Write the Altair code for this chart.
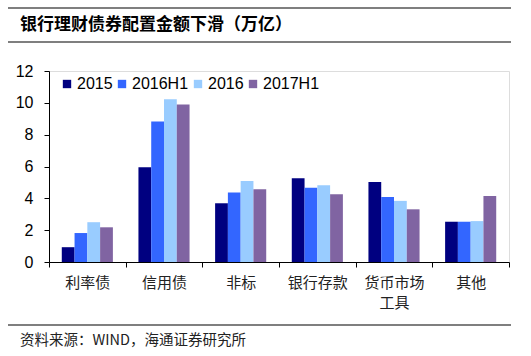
import altair as alt
import pandas as pd

categories = ["利率债", "信用债", "非标", "银行存款", "货币市场工具", "其他"]
series = ["2015", "2016H1", "2016", "2017H1"]
v2015 = [0.93, 5.95, 3.69, 5.26, 5.03, 2.53]
v2016h1 = [1.82, 8.82, 4.36, 4.67, 4.09, 2.53]
v2016 = [2.50, 10.22, 5.09, 4.82, 3.84, 2.57]
v2017h1 = [2.18, 9.90, 4.57, 4.26, 3.31, 4.15]
colors = ["#000080", "#3366FF", "#99CCFF", "#8064A2"]

rows = []
for s, vals in zip(series, [v2015, v2016h1, v2016, v2017h1]):
    for c, v in zip(categories, vals):
        rows.append({"cat": c, "series": s, "value": v})
df = pd.DataFrame(rows)

W, H = 460, 191
LEFT, TOP = 49, 71

bars = alt.Chart(df).mark_bar().encode(
    x=alt.X("cat:N", sort=categories, title=None,
            scale=alt.Scale(paddingInner=0, paddingOuter=0),
            axis=alt.Axis(tickBand="extent", labelAngle=0, labelFont="Noto Sans CJK SC",
                          labelFontSize=15, labelColor="#222", labelPadding=8,
                          tickSize=5, tickColor="#000", domainColor="#000",
                          labelLineHeight=20,
                          labelExpr="datum.value == '货币市场工具' ? ['货币市场','工具'] : datum.value")),
    xOffset=alt.XOffset("series:N", sort=series, scale=alt.Scale(paddingInner=0, paddingOuter=1)),
    y=alt.Y("value:Q", title=None,
            scale=alt.Scale(domain=[0, 12], nice=False),
            axis=alt.Axis(values=[0, 2, 4, 6, 8, 10, 12], grid=False, tickSize=5,
                          tickColor="#000", domainColor="#000", labelFont="Liberation Sans",
                          labelFontSize=16, labelColor="#000", labelPadding=11)),
    color=alt.Color("series:N", sort=series, scale=alt.Scale(domain=series, range=colors),
                    legend=alt.Legend(title=None, orient="none", direction="horizontal",
                                      legendX=10, legendY=5, symbolType="square",
                                      symbolSize=70, symbolStrokeWidth=0, labelFont="Liberation Sans",
                                      labelFontSize=16, labelColor="#000", labelOffset=2,
                                      columnPadding=1)),
)

lines_df = pd.DataFrame({"y": [8 - TOP, 42 - TOP, 325 - TOP]})
lines = alt.Chart(lines_df).mark_rule(color="#000", strokeWidth=1.2).encode(
    x=alt.value(8 - LEFT), x2=alt.value(511 - LEFT), y=alt.Y("y:Q", scale=None)
)

title = alt.Chart(pd.DataFrame({"t": ["银行理财债券配置金额下滑（万亿）"]})).mark_text(
    align="left", baseline="middle", font="Noto Sans CJK SC", fontSize=17, fontWeight="bold", color="#000"
).encode(x=alt.value(20 - LEFT), y=alt.value(25 - TOP), text="t:N")

source = alt.Chart(pd.DataFrame({"t": ["资料来源：WIND，海通证券研究所"]})).mark_text(
    align="left", baseline="middle", font="Noto Sans CJK SC", fontSize=14.5, color="#222"
).encode(x=alt.value(20 - LEFT), y=alt.value(341 - TOP), text="t:N")

chart = alt.layer(bars, lines, title, source).properties(
    width=W, height=H,
    autosize=alt.AutoSizeParams(type="none"),
    padding={"left": LEFT, "top": TOP, "right": 531 - LEFT - W, "bottom": 356 - TOP - H},
).configure_view(stroke=None).configure(background="white")

chart.save("out.html", embed_options={"renderer": "svg", "actions": False})
